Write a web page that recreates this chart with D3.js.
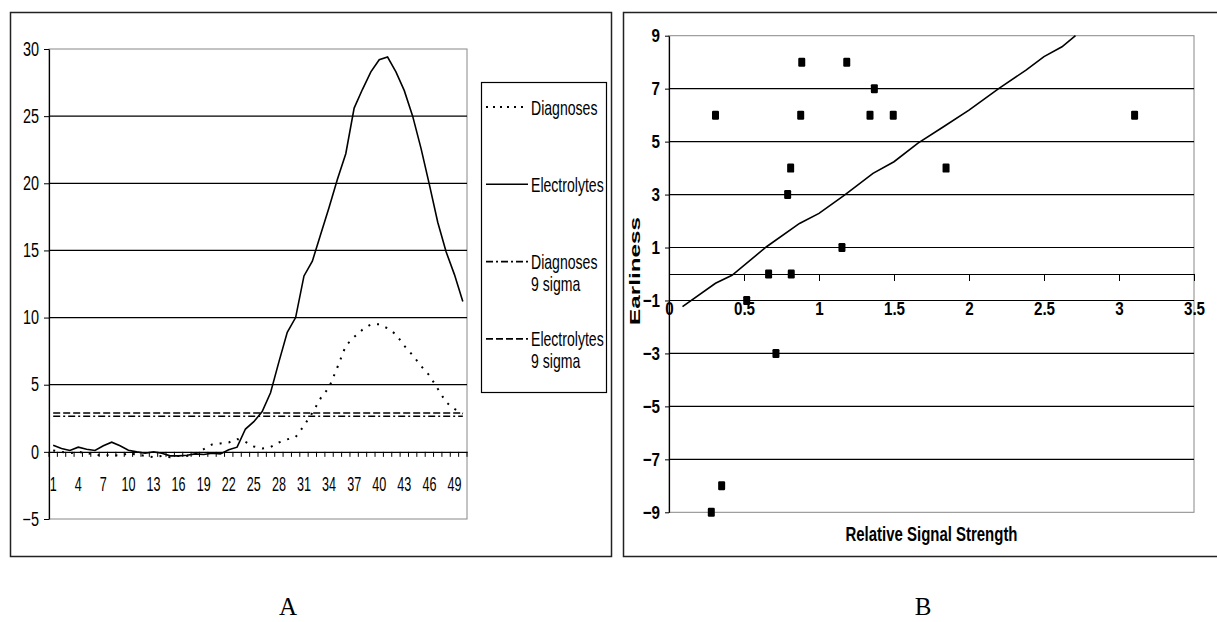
<!DOCTYPE html>
<html>
<head>
<meta charset="utf-8">
<script src="https://cdn.jsdelivr.net/npm/d3@7"></script>
<style>
  html,body{margin:0;padding:0;background:#fff;}
  svg{display:block;}
  text{font-family:"Liberation Sans",Arial,sans-serif;fill:#000;}
</style>
</head>
<body>
<svg id="chart" width="1217" height="622"></svg>
<script>
// ---------- Panel A data ----------
const categories = [1,2,3,4,5,6,7,8,9,10,11,12,13,14,15,16,17,18,19,20,21,22,23,24,25,
  26,27,28,29,30,31,32,33,34,35,36,37,38,39,40,41,42,43,44,45,46,47,48,49,50];
const xTickLabelsA = [1,4,7,10,13,16,19,22,25,28,31,34,37,40,43,46,49];
const yTicksA = [-5,0,5,10,15,20,25,30];
const diagnoses = [0.1,0,-0.1,0,-0.1,-0.2,-0.3,-0.2,-0.3,-0.1,
  -0.2,-0.3,-0.4,-0.3,-0.4,-0.3,-0.3,-0.1,0.2,0.55,
  0.63,0.7,0.95,0.75,0.4,0.25,0.35,0.7,0.93,1.1,
  1.95,2.9,4.0,4.8,6.3,7.9,8.55,9.1,9.5,9.5,
  9.2,8.75,7.9,7.2,6.4,5.7,4.7,3.7,3.2,2.85];
const electrolytes = [0.5,0.25,0.1,0.35,0.2,0.1,0.45,0.72,0.45,0.12,
  0.0,-0.1,0.0,-0.1,-0.3,-0.3,-0.25,-0.15,-0.2,-0.1,
  -0.15,0.15,0.35,1.7,2.25,3.0,4.4,6.7,8.9,10.0,
  13.1,14.2,16.2,18.2,20.3,22.2,25.6,27.0,28.3,29.2,
  29.4,28.3,26.9,25.0,22.6,19.9,17.1,14.9,13.2,11.2];
const diagnosesSigma = 2.65;
const electrolytesSigma = 2.9;
const legendNames = [["Diagnoses"],["Electrolytes"],["Diagnoses","9 sigma"],["Electrolytes","9 sigma"]];

// ---------- Panel B data ----------
const signalStrength = [0.31,0.885,0.878,1.185,1.369,1.34,1.495,0.811,0.791,1.153,0.664,0.815,0.518,0.713,0.351,0.282,1.847,3.104];
const earliness      = [6,8,6,8,7,6,6,4,3,1,0,0,-1,-3,-8,-9,4,6];
const trendX = [0.09,0.31,0.42,0.65,0.87,1.0,1.17,1.36,1.5,1.66,1.83,2.0,2.2,2.38,2.5,2.62,2.71];
const trendY = [-1.23,-0.35,-0.05,1.03,1.91,2.29,2.98,3.8,4.24,4.94,5.56,6.19,7.01,7.7,8.21,8.58,9.0];
const xTicksB = [0,0.5,1,1.5,2,2.5,3,3.5];
const yTicksB = [9,7,5,3,1,-1,-3,-5,-7,-9];
const gridB = [7,5,3,1,-1,-3,-5,-7];
const gridA = [5,10,15,20,25];

// ---------- helpers ----------
function squeeze(sel, f){
  sel.each(function(){
    const w = this.getComputedTextLength();
    if (w > 0) d3.select(this).attr("textLength", w*f).attr("lengthAdjust","spacingAndGlyphs");
  });
}

const svg = d3.select("#chart");
svg.append("rect").attr("width",1217).attr("height",622).attr("fill","#fff");

// =================== PANEL A ===================
const gA = svg.append("g");
gA.append("rect").attr("x",10.5).attr("y",12.5).attr("width",601).attr("height",544)
  .attr("fill","none").attr("stroke","#222").attr("stroke-width",1.5);

const xA = d3.scaleBand().domain(categories).range([49,467]);
const yA = d3.scaleLinear().domain([-5,30]).range([519,49]);
const cx = c => xA(c) + xA.bandwidth()/2;

gA.append("rect").attr("x",49).attr("y",yA(30)).attr("width",467-49).attr("height",yA(-5)-yA(30))
  .attr("fill","none").attr("stroke","#888").attr("stroke-width",1);
gA.selectAll(".gA").data(gridA).join("line")
  .attr("x1",49).attr("x2",467).attr("y1",d=>yA(d)).attr("y2",d=>yA(d))
  .attr("stroke","#000").attr("stroke-width",1.2);

const yAxisA = gA.append("g").attr("transform","translate(49,0)")
  .call(d3.axisLeft(yA).tickValues(yTicksA).tickSize(5).tickSizeOuter(0).tickPadding(5));
yAxisA.select(".domain").attr("stroke","#000").attr("stroke-width",1.2);
yAxisA.selectAll("line").attr("stroke","#000");
yAxisA.selectAll("text").style("font-size","19.5px").style("font-family","Liberation Sans, Arial, sans-serif");
squeeze(yAxisA.selectAll("text"), 0.74);

const xAxisA = gA.append("g").attr("transform",`translate(0,${yA(0)})`)
  .call(d3.axisBottom(xA).tickValues(xTickLabelsA).tickSize(0).tickSizeOuter(0));
xAxisA.select(".domain").attr("stroke","#000").attr("stroke-width",1.2);
xAxisA.selectAll("text").attr("y",32).attr("dy","0.36em")
  .style("font-size","21px").style("font-family","Liberation Sans, Arial, sans-serif");
squeeze(xAxisA.selectAll("text"), 0.6);
const boundaries = categories.map(c => xA(c)).concat([xA.range()[1]]);
xAxisA.selectAll(".btick").data(boundaries).join("line")
  .attr("x1",d=>d).attr("x2",d=>d).attr("y1",0).attr("y2",5)
  .attr("stroke","#000").attr("stroke-width",1);

gA.append("line").attr("x1",cx(categories[0])).attr("x2",cx(categories[categories.length-1]))
  .attr("y1",yA(electrolytesSigma)).attr("y2",yA(electrolytesSigma))
  .attr("stroke","#000").attr("stroke-width",1.5).attr("stroke-dasharray","7,3");
gA.append("line").attr("x1",cx(categories[0])).attr("x2",cx(categories[categories.length-1]))
  .attr("y1",yA(diagnosesSigma)).attr("y2",yA(diagnosesSigma))
  .attr("stroke","#000").attr("stroke-width",1.5).attr("stroke-dasharray","7,3,2,3");

const lineA = d3.line().x(d=>cx(d[0])).y(d=>yA(d[1]));
gA.append("path").datum(categories.map((c,i)=>[c,diagnoses[i]]))
  .attr("d",lineA).attr("fill","none").attr("stroke","#000").attr("stroke-width",2)
  .attr("stroke-dasharray","2,7");
gA.append("path").datum(categories.map((c,i)=>[c,electrolytes[i]]))
  .attr("d",lineA).attr("fill","none").attr("stroke","#000").attr("stroke-width",1.6);

const leg = gA.append("g");
leg.append("rect").attr("x",481.5).attr("y",82.5).attr("width",125).attr("height",310)
  .attr("fill","#fff").attr("stroke","#000").attr("stroke-width",1.2);
const dashes = ["2,5","","7,3,2,3","7,3"];
legendNames.forEach((names,i)=>{
  const y = 107 + i*77.3;
  leg.append("line").attr("x1",486).attr("x2",528).attr("y1",y).attr("y2",y)
    .attr("stroke","#000").attr("stroke-width",i===0?2:1.6)
    .attr("stroke-dasharray",dashes[i]||null);
  names.forEach((t,j)=>{
    const tx = leg.append("text").attr("x",531).attr("y",y + j*22).attr("dy","0.36em")
      .style("font-size","21px").text(t);
    squeeze(tx, 0.67);
  });
});

svg.append("text").attr("x",288).attr("y",615).attr("text-anchor","middle")
  .style("font-family","Liberation Serif, Times New Roman, serif").style("font-size","25px").text("A");

// =================== PANEL B ===================
const gB = svg.append("g");
gB.append("rect").attr("x",623.5).attr("y",12.5).attr("width",620).attr("height",544)
  .attr("fill","none").attr("stroke","#222").attr("stroke-width",1.5);

const xB = d3.scaleLinear().domain([0,3.5]).range([669,1194]);
const yB = d3.scaleLinear().domain([-9,9]).range([512.3,35.7]);

gB.append("rect").attr("x",669).attr("y",yB(9)).attr("width",1194-669).attr("height",yB(-9)-yB(9))
  .attr("fill","none").attr("stroke","#888").attr("stroke-width",1);
gB.selectAll(".gB").data(gridB).join("line")
  .attr("x1",669).attr("x2",1194).attr("y1",d=>yB(d)).attr("y2",d=>yB(d))
  .attr("stroke","#000").attr("stroke-width",1.2);

const yAxisB = gB.append("g").attr("transform","translate(669,0)")
  .call(d3.axisLeft(yB).tickValues(yTicksB).tickSize(4).tickSizeOuter(0).tickPadding(5).tickFormat(d3.format("d")));
yAxisB.select(".domain").attr("stroke","#000").attr("stroke-width",1.2);
yAxisB.selectAll("text").style("font-size","19px").style("font-weight","bold")
  .style("font-family","Liberation Sans, Arial, sans-serif");
squeeze(yAxisB.selectAll("text"), 0.8);

const xAxisB = gB.append("g").attr("transform",`translate(0,${yB(0)})`)
  .call(d3.axisBottom(xB).tickValues(xTicksB).tickSize(7).tickSizeOuter(0).tickFormat(d=>String(d)));
xAxisB.select(".domain").attr("stroke","#000").attr("stroke-width",1.2);
xAxisB.selectAll("text").attr("y",34).attr("dy","0.36em").style("font-size","19px").style("font-weight","bold")
  .style("font-family","Liberation Sans, Arial, sans-serif");
squeeze(xAxisB.selectAll("text"), 0.8);

gB.append("path").datum(trendX.map((x,i)=>[x,trendY[i]]))
  .attr("d", d3.line().x(d=>xB(d[0])).y(d=>yB(d[1])))
  .attr("fill","none").attr("stroke","#000").attr("stroke-width",1.6);

gB.selectAll(".pt").data(signalStrength.map((x,i)=>[x,earliness[i]])).join("rect")
  .attr("x",d=>xB(d[0])-3.5).attr("y",d=>yB(d[1])-4.5).attr("width",7).attr("height",9)
  .attr("rx",1.2).attr("fill","#000");

const xt = gB.append("text").attr("x",(669+1194)/2).attr("y",534).attr("dy","0.36em")
  .attr("text-anchor","middle").style("font-size","20px").style("font-weight","bold")
  .text("Relative Signal Strength");
xt.attr("textLength",172).attr("lengthAdjust","spacingAndGlyphs");
const yt = gB.append("text").attr("transform","translate(635,271) rotate(-90)").attr("dy","0.36em")
  .attr("text-anchor","middle").style("font-size","15px").style("font-weight","bold")
  .text("Earliness");
yt.attr("textLength",108).attr("lengthAdjust","spacingAndGlyphs");

svg.append("text").attr("x",923).attr("y",615).attr("text-anchor","middle")
  .style("font-family","Liberation Serif, Times New Roman, serif").style("font-size","25px").text("B");
</script>
</body>
</html>
